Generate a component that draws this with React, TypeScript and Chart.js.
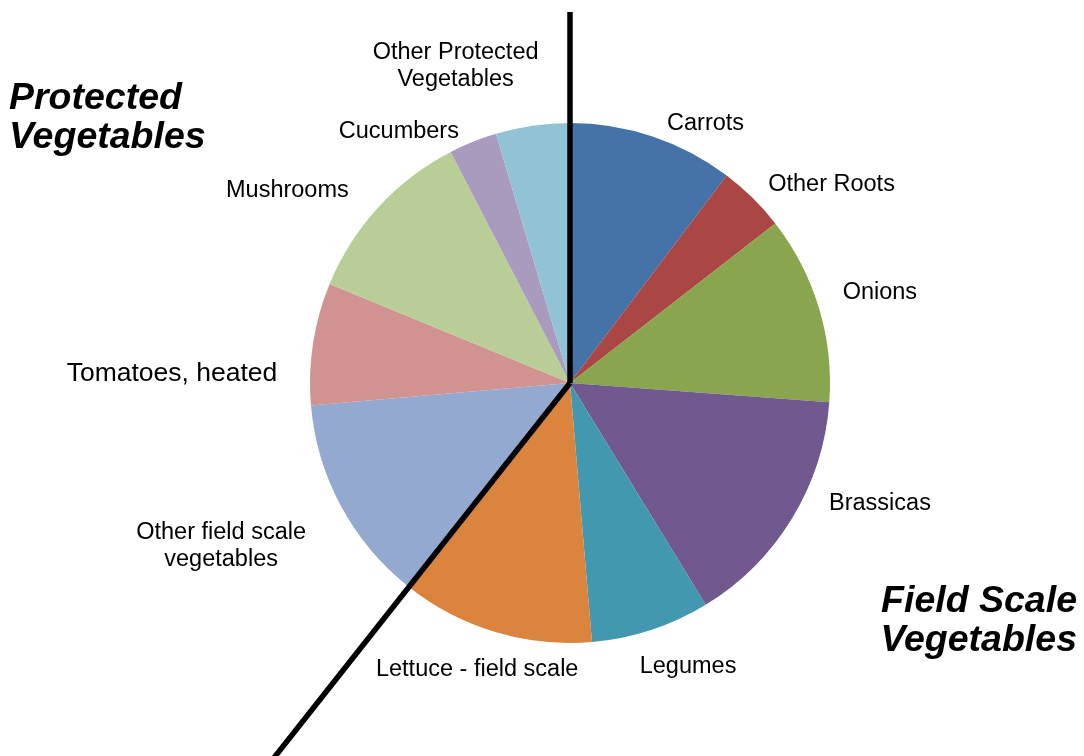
import React, { useEffect, useRef } from "react";
import { Chart, registerables } from "chart.js";

Chart.register(...registerables);

// ---- Data ----
const categories = [
  "Carrots",
  "Other Roots",
  "Onions",
  "Brassicas",
  "Legumes",
  "Lettuce - field scale",
  "Other field scale vegetables",
  "Tomatoes, heated",
  "Mushrooms",
  "Cucumbers",
  "Other Protected Vegetables",
];
const labelLines = [
  ["Carrots"],
  ["Other Roots"],
  ["Onions"],
  ["Brassicas"],
  ["Legumes"],
  ["Lettuce - field scale"],
  ["Other field scale", "vegetables"],
  ["Tomatoes, heated"],
  ["Mushrooms"],
  ["Cucumbers"],
  ["Other Protected", "Vegetables"],
];
const shares = [10.3, 4.2, 11.7, 15.1, 7.4, 12.0, 13.0, 7.6, 11.2, 3.0, 4.6];
const groupLeft = ["Protected", "Vegetables"];
const groupRight = ["Field Scale", "Vegetables"];

// ---- Styles / layout ----
const colors = [
  "#4572A7",
  "#AA4643",
  "#89A54E",
  "#71588F",
  "#4198AF",
  "#DB843D",
  "#93A9CF",
  "#D19392",
  "#B9CD96",
  "#A99BBD",
  "#92C3D5",
];
// label centre offset from the rim point at each slice's mid angle
const labelOffsets: [number, number][] = [
  [53, -13],
  [79, -13],
  [61, -15],
  [88, -15],
  [37, 36],
  [-18, 38],
  [-120, 40],
  [-141, 30],
  [-91, -17],
  [-74, -10],
  [-77, -60],
];
const labelSizes = [23.5, 23.5, 23.5, 23.5, 23.5, 23.5, 23.5, 26.5, 23.5, 23.5, 23.5];
const FONT = '"Liberation Sans", Arial, sans-serif';

const overlayPlugin = {
  id: "overlay",
  afterDatasetsDraw(chart: any) {
    const ctx: CanvasRenderingContext2D = chart.ctx;
    const meta = chart.getDatasetMeta(0);
    const arcs = meta.data;
    if (!arcs.length) return;
    const first = arcs[0].getProps(["x", "y", "startAngle", "outerRadius"], true);
    const cx = first.x;
    const cy = first.y;
    const r = first.outerRadius;

    // dividing lines
    ctx.save();
    ctx.strokeStyle = "#000";
    ctx.lineWidth = 5.5;
    ctx.lineCap = "butt";
    const a0 = first.startAngle;
    ctx.beginPath();
    ctx.moveTo(cx, cy);
    ctx.lineTo(cx + Math.cos(a0) * r * 1.427, cy + Math.sin(a0) * r * 1.427);
    ctx.stroke();
    const lettuce = arcs[5].getProps(["endAngle"], true);
    const a1 = lettuce.endAngle;
    ctx.beginPath();
    ctx.moveTo(cx, cy);
    ctx.lineTo(cx + Math.cos(a1) * r * 2, cy + Math.sin(a1) * r * 2);
    ctx.stroke();
    ctx.restore();

    // slice labels
    ctx.save();
    ctx.fillStyle = "#000";
    ctx.textAlign = "center";
    ctx.textBaseline = "middle";
    arcs.forEach((arc: any, i: number) => {
      const p = arc.getProps(["x", "y", "startAngle", "endAngle", "outerRadius"], true);
      const mid = (p.startAngle + p.endAngle) / 2;
      const ax = p.x + Math.cos(mid) * p.outerRadius;
      const ay = p.y + Math.sin(mid) * p.outerRadius;
      const [dx, dy] = labelOffsets[i];
      const lines = labelLines[i];
      const lh = 27;
      ctx.font = `${labelSizes[i]}px ${FONT}`;
      const top = ay + dy - ((lines.length - 1) * lh) / 2;
      lines.forEach((t, k) => ctx.fillText(t, ax + dx, top + k * lh));
    });
    ctx.restore();

    // group titles
    ctx.save();
    ctx.fillStyle = "#000";
    ctx.font = `italic bold 37.5px ${FONT}`;
    ctx.textBaseline = "alphabetic";
    ctx.textAlign = "left";
    ctx.fillText(groupLeft[0], 9, 109);
    ctx.fillText(groupLeft[1], 9, 148);
    ctx.textAlign = "right";
    ctx.fillText(groupRight[0], 1077, 612);
    ctx.fillText(groupRight[1], 1077, 651);
    ctx.restore();
  },
};

export default function App() {
  const ref = useRef<HTMLCanvasElement | null>(null);
  useEffect(() => {
    if (!ref.current) return;
    const chart = new Chart(ref.current, {
      type: "pie",
      data: {
        labels: categories,
        datasets: [
          {
            data: shares,
            backgroundColor: colors,
            borderWidth: 0,
            hoverBorderWidth: 0,
            hoverOffset: 0,
          } as any,
        ],
      },
      options: {
        responsive: false,
        animation: false,
        devicePixelRatio: 1,
        events: [],
        layout: { padding: { left: 310, right: 254, top: 123, bottom: 113 } },
        plugins: {
          legend: { display: false },
          tooltip: { enabled: false },
          title: { display: false },
        },
      } as any,
      plugins: [overlayPlugin],
    });
    return () => chart.destroy();
  }, []);
  return (
    <div style={{ position: "absolute", left: 0, top: 0, width: 1084, height: 756, background: "#fff" }}>
      <canvas ref={ref} width={1084} height={756} style={{ display: "block", width: 1084, height: 756 }} />
    </div>
  );
}
